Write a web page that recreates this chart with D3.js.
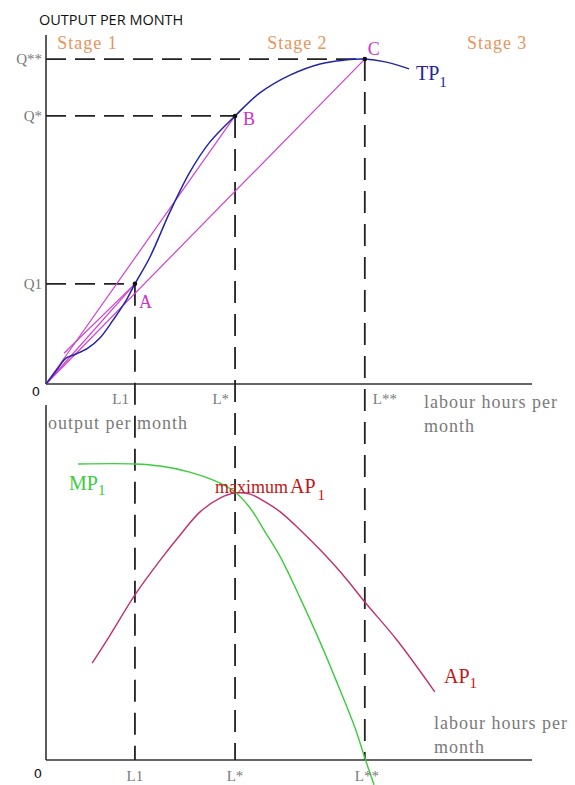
<!DOCTYPE html>
<html>
<head>
<meta charset="utf-8">
<script src="https://cdn.jsdelivr.net/npm/d3@7"></script>
<style>
  body { margin: 0; background: #fff; }
  svg { display: block; }
</style>
</head>
<body>
<svg id="svg1"></svg>
<script>
// labour on x (0-100), output on y (0-100)
var tpLabour = [0, 2.5, 4.1, 6.2, 8.6, 11.1, 13.8, 16.3, 18.3, 21.4, 25.5, 29.6, 33.7, 38.9, 44.0, 50.2, 56.4, 61.5, 65.6, 69.8, 74.7];
var tpOutput = [0, 4.6, 7.4, 8.6, 10.3, 13.2, 18.3, 23.5, 28.7, 36.4, 49.3, 60.7, 69.3, 76.8, 83.4, 88.5, 91.7, 92.8, 93.1, 92.3, 90.3];

var mpLabour = [6.6, 18.3, 23.5, 29.6, 34.8, 38.9, 42.0, 45.1, 48.2, 52.3, 56.4, 60.5, 63.6, 65.6, 67.5];
var mpValue  = [83.4, 83.4, 82.8, 81.1, 78.6, 75.5, 71.0, 64.2, 57.2, 45.6, 33.2, 19.7, 9.0, 0.6, -7.0];

var apLabour = [9.5, 13.2, 18.3, 23.5, 27.6, 31.7, 35.8, 38.9, 42.0, 45.1, 48.2, 52.3, 56.4, 61.5, 65.6, 72.2, 80.0];
var apValue  = [27.3, 35.2, 46.5, 56.3, 63.4, 69.9, 73.8, 75.2, 74.9, 72.7, 69.9, 64.8, 59.2, 51.5, 44.5, 33.8, 19.2];

// the three marked points A, B, C on TP
var pointNames = ["A", "B", "C"];
var pointLabour = [18.3, 38.9, 65.6];
var pointOutput = [28.7, 76.8, 93.1];
var outputTicks = ["Q1", "Q*", "Q**"];
var labourTicks = ["L1", "L*", "L**"];

// rays from the origin (and one short chord) to the points
var rayFrom = [[0, 0], [0, 0], [0, 0], [3.7, 8.8]];
var rayTo = [[18.3, 28.7], [38.9, 76.8], [65.6, 93.1], [18.3, 28.7]];

var stages = ["Stage 1", "Stage 2", "Stage 3"];
var stageLabour = [2.3, 45.5, 86.6];

var W = 575, H = 785;
var svg = d3.select("#svg1").attr("width", W).attr("height", H);

var x = d3.scaleLinear().domain([0, 100]).range([46, 532]);
var yTop = d3.scaleLinear().domain([0, 100]).range([384, 35]);
var yBot = d3.scaleLinear().domain([0, 100]).range([760, 405]);

var serif = "'Liberation Serif', 'Times New Roman', serif";
var gray = "#7a7a7a";

// axes
function axes(yScale, top) {
  svg.append("line")
    .attr("x1", x(0)).attr("x2", x(0))
    .attr("y1", yScale(top)).attr("y2", yScale(0))
    .attr("stroke", "#333").attr("stroke-width", 1.6);
  svg.append("line")
    .attr("x1", x(0)).attr("x2", x(100))
    .attr("y1", yScale(0)).attr("y2", yScale(0))
    .attr("stroke", "#333").attr("stroke-width", 1.6);
}
axes(yTop, 100);
axes(yBot, 100);

// dashed guides
pointLabour.forEach(function (l, i) {
  svg.append("line")
    .attr("x1", x(0)).attr("x2", x(l))
    .attr("y1", yTop(pointOutput[i])).attr("y2", yTop(pointOutput[i]))
    .attr("stroke", "#222").attr("stroke-width", 1.8)
    .attr("stroke-dasharray", "20,9");
  svg.append("line")
    .attr("x1", x(l)).attr("x2", x(l))
    .attr("y1", yTop(pointOutput[i])).attr("y2", yBot(0))
    .attr("stroke", "#222").attr("stroke-width", 1.8)
    .attr("stroke-dasharray", "22,11");
});

// rays
rayFrom.forEach(function (f, i) {
  svg.append("line")
    .attr("x1", x(f[0])).attr("y1", yTop(f[1]))
    .attr("x2", x(rayTo[i][0])).attr("y2", yTop(rayTo[i][1]))
    .attr("stroke", "#d040d0").attr("stroke-width", 1.2);
});

// TP curve
var tpLine = d3.line()
  .x(function (d) { return x(d[0]); })
  .y(function (d) { return yTop(d[1]); })
  .curve(d3.curveCatmullRom);
svg.append("path")
  .datum(d3.zip(tpLabour, tpOutput))
  .attr("d", tpLine)
  .attr("fill", "none").attr("stroke", "#2424a8").attr("stroke-width", 1.5);

// points
svg.selectAll(".pt").data(pointLabour).enter().append("circle")
  .attr("cx", function (d) { return x(d); })
  .attr("cy", function (d, i) { return yTop(pointOutput[i]); })
  .attr("r", 2.3).attr("fill", "#111");

var ptOffset = [[4, 24], [8, 9], [3, -4]];
pointNames.forEach(function (n, i) {
  svg.append("text")
    .attr("x", x(pointLabour[i]) + ptOffset[i][0])
    .attr("y", yTop(pointOutput[i]) + ptOffset[i][1])
    .style("font-family", serif).style("font-size", "18px")
    .attr("fill", "#cc33cc").text(n);
});

// bottom curves
var botLine = d3.line()
  .x(function (d) { return x(d[0]); })
  .y(function (d) { return yBot(d[1]); })
  .curve(d3.curveCatmullRom);
svg.append("path")
  .datum(d3.zip(apLabour, apValue))
  .attr("d", botLine)
  .attr("fill", "none").attr("stroke", "#c0306e").attr("stroke-width", 1.4);
svg.append("path")
  .datum(d3.zip(mpLabour, mpValue))
  .attr("d", botLine)
  .attr("fill", "none").attr("stroke", "#3ccc3c").attr("stroke-width", 1.4);

// text labels
function txt(px, py, s, size, color, family) {
  return svg.append("text").attr("x", px).attr("y", py)
    .style("font-family", family || serif).style("font-size", size + "px")
    .attr("fill", color).text(s);
}

txt(39, 25, "OUTPUT PER MONTH", 14.5, "#111", "'Open Sans', sans-serif");

stages.forEach(function (s, i) {
  txt(x(stageLabour[i]), 49, s, 18, "#e8955c").style("letter-spacing", "1px");
});

outputTicks.forEach(function (s, i) {
  txt(42, yTop(pointOutput[i]) + 5, s, 15, gray).attr("text-anchor", "end");
});

labourTicks.forEach(function (s, i) {
  var off = i == 2 ? 8 : -6;
  txt(x(pointLabour[i]) + off, 404, s, 15, gray).attr("text-anchor", i == 2 ? "start" : "end");
});
labourTicks.forEach(function (s, i) {
  var off = i == 2 ? 2 : 0;
  txt(x(pointLabour[i]) + off, 781, s, 15, gray).attr("text-anchor", "middle");
});

txt(36, 396, "0", 13, "#111", "'DejaVu Sans', sans-serif").attr("text-anchor", "middle");
txt(38, 778, "0", 13, "#111", "'DejaVu Sans', sans-serif").attr("text-anchor", "middle");

function wide(t) { return t.style("letter-spacing", "1px"); }
wide(txt(424, 408, "labour hours per", 18, gray));
wide(txt(424, 432, "month", 18, gray));
wide(txt(434, 729, "labour hours per", 18, gray));
wide(txt(434, 753, "month", 18, gray));
wide(txt(48, 429, "output per month", 18, gray));

// TP1
var tp = txt(416, 80, "TP", 20, "#2424a8");
tp.append("tspan").attr("dy", 7).style("font-size", "15px").text("1");

var mp = txt(69, 490, "MP", 20, "#3ccc3c");
mp.append("tspan").attr("dy", 5).style("font-size", "15px").text("1");

var mx = txt(215, 493, "maximum", 18, "#c01818");
mx.append("tspan").attr("dx", 2).style("font-size", "20px").text("AP");
mx.append("tspan").attr("dy", 7).attr("dx", 2).style("font-size", "15px").text("1");

var ap = txt(444, 683, "AP", 20, "#c01818");
ap.append("tspan").attr("dy", 5).style("font-size", "15px").text("1");
</script>
</body>
</html>
